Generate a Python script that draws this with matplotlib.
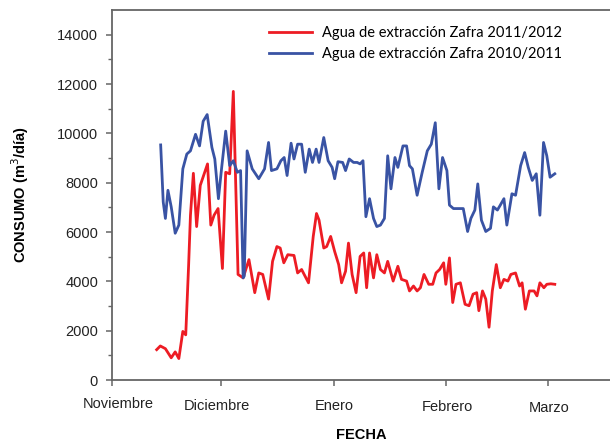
import matplotlib
matplotlib.use("Agg")
import matplotlib.pyplot as plt
from matplotlib.transforms import ScaledTranslation

# days counted from 1 November
months = ["Noviembre", "Diciembre", "Enero", "Febrero", "Marzo"]
month_days = [0, 30, 61, 92, 120]

# Agua de extracción Zafra 2011/2012
red_days = [12.3, 13.3, 14.7, 16.3, 17.4, 18.4, 19.5, 20.3, 21.1, 21.6, 22.4, 23.3, 24.3, 26.3,
            27.2, 28.1, 29.2, 30.4, 31.3, 32.4, 33.4, 34.7, 36.1, 37.7, 39.3, 40.4, 41.5, 43.1,
            44.2, 45.4, 46.3, 47.3, 48.4, 50.1, 51.1, 52.2, 54.1, 55.4, 56.3, 57.0, 58.3, 59.1,
            60.2, 61.3, 62.4, 63.2, 64.3, 65.1, 66.1, 67.2, 68.3, 69.3, 70.1, 70.9, 72.0, 72.9,
            73.9, 75.0, 75.9, 77.4, 78.7, 79.7, 81.1, 81.9, 83.0, 84.0, 84.9, 85.9, 87.2, 88.3,
            89.2, 90.2, 91.3, 91.9, 92.9, 93.8, 94.7, 95.9, 97.2, 98.3, 99.4, 100.4, 101.0, 102.0,
            102.9, 103.8, 104.7, 105.8, 106.9, 107.9, 109.0, 109.8, 111.1, 112.2, 112.9, 113.8,
            114.9, 116.2, 117.0, 117.8, 118.9, 119.7, 120.8, 121.9]
red_vals = [1230, 1380, 1270, 900, 1140, 870, 1970, 1830, 4680, 6680, 8380, 6220, 7890, 8760,
            6280, 6680, 6950, 4520, 8420, 8360, 11700, 4280, 4140, 4880, 3540, 4340, 4280, 3280,
            4810, 5410, 5350, 4750, 5080, 5050, 4340, 4480, 3940, 5820, 6750, 6480, 5350, 5410,
            5820, 5210, 4680, 3940, 4410, 5550, 4280, 3540, 5010, 5150, 3740, 5150, 4140, 5080,
            4480, 4340, 4810, 4010, 4610, 4080, 4010, 3610, 3810, 3610, 3740, 4280, 3880, 3880,
            4340, 4480, 4750, 3880, 4950, 3140, 3880, 3940, 3070, 3010, 3480, 3540, 2810, 3610,
            3280, 2140, 3610, 4680, 3740, 4080, 4010, 4280, 4340, 3810, 3940, 2870,
            3610, 3610, 3410, 3940, 3740, 3880, 3900, 3880]

# Agua de extracción Zafra 2010/2011
blue_days = [13.4, 14.1, 14.7, 15.4, 16.3, 17.4, 18.4, 19.5, 20.6, 21.6, 23.0, 24.1, 25.1, 26.2,
             27.5, 28.3, 29.3, 30.2, 31.3, 32.4, 33.4, 34.5, 35.4, 36.1, 36.4, 37.2, 38.6, 40.4,
             42.0, 43.1, 43.9, 45.4, 46.5, 47.4, 48.2, 49.3, 50.1, 51.1, 52.2, 53.2, 54.3, 55.2,
             56.2, 57.0, 58.3, 59.5, 60.6, 61.3, 62.2, 63.5, 64.3, 65.3, 66.5, 67.5, 68.3, 69.1,
             69.9, 70.9, 72.0, 72.9, 73.9, 75.0, 75.9, 76.8, 77.9, 78.7, 80.1, 81.1, 81.9, 82.7,
             84.0, 85.4, 86.8, 87.9, 89.0, 90.0, 91.0, 92.2, 92.9, 94.0, 95.1, 96.7, 97.9, 98.8,
             99.9, 100.7, 101.7, 102.9, 104.2, 105.0, 106.1, 106.9, 107.9, 108.7, 110.1, 111.1,
             112.5, 113.6, 114.6, 115.7, 116.8, 117.8, 118.8, 119.7, 120.6, 121.9]
blue_vals = [9530, 7220, 6550, 7690, 7020, 5950, 6280, 8560, 9160, 9290, 9960, 9490, 10490, 10760,
             9430, 8960, 7350, 8620, 10090, 8690, 8890, 8420, 8490, 4140, 4210, 9290, 8560, 8160,
             8560, 9630, 8490, 8560, 8890, 9020, 8290, 9600, 8960, 9560, 9560, 8420, 9360, 8820,
             9360, 8820, 9830, 8890, 8620, 8160, 8850, 8820, 8490, 8960, 8820, 8820, 8760, 8890,
             6620, 7350, 6550, 6220, 6280, 6550, 9090, 7750, 9020, 8620, 9490, 9490, 8690, 8560,
             7490, 8420, 9290, 9560, 10430, 7750, 9020, 8490, 7090, 6950, 6950, 6950, 6020, 6550,
             6890, 7950, 6480, 6020, 6150, 7020, 6890, 7090, 7350, 6280, 7550, 7490,
             8690, 9220, 8620, 8090, 8360, 6680, 9630, 9090, 8220, 8360]

plt.rcParams['font.family'] = ['Liberation Sans', 'DejaVu Sans']

fig = plt.figure(figsize=(6.1, 4.42), dpi=100)
ax = fig.add_axes([112 / 610, 1 - 380 / 442, 1 - 112 / 610, 370 / 442])

ax.plot(red_days, red_vals, color='#ed1c24', lw=2.0,
        label='Agua de extracción Zafra 2011/2012')
ax.plot(blue_days, blue_vals, color='#3953a4', lw=2.0,
        label='Agua de extracción Zafra 2010/2011')

ax.set_xlim(0, 137.1)
ax.set_ylim(0, 15000)
ax.set_yticks(range(0, 14001, 2000))
ax.set_yticks(range(1000, 14001, 2000), minor=True)
ax.set_xticks(month_days)
ax.set_xticklabels(months)

for s in ['top', 'left', 'bottom']:
    ax.spines[s].set_color('#666666')
    ax.spines[s].set_linewidth(1.3)
ax.spines['right'].set_visible(False)

ax.tick_params(axis='both', which='major', labelsize=10.5, colors='#666666',
               labelcolor='#222222', length=4, width=1.1)
ax.tick_params(axis='y', which='major', pad=6)
ax.tick_params(axis='x', which='major', pad=9)
ax.tick_params(axis='y', which='minor', length=3, width=1.0, colors='#666666')

# the month names sit a little off their ticks in the original
shifts = [(6, 1), (-4, -1), (1, -1), (1, -2), (1, -3)]
for lab, (dx, dy) in zip(ax.get_xticklabels(), shifts):
    lab.set_transform(lab.get_transform() + ScaledTranslation(dx / 100, dy / 100, fig.dpi_scale_trans))

ax.set_ylabel('CONSUMO (m$^3$/día)', fontsize=10.5, fontweight='bold', labelpad=19)
ax.set_xlabel('FECHA', fontsize=10.5, fontweight='bold', labelpad=9)

leg = ax.legend(loc='upper left', bbox_to_anchor=(262 / 610, 1 - 19 / 442),
                bbox_transform=fig.transFigure, frameon=False, borderpad=0,
                handlelength=2.9, handletextpad=0.7, labelspacing=0.45,
                prop={'family': 'Lato', 'size': 10.5})

fig.savefig('out.png', dpi=100)
